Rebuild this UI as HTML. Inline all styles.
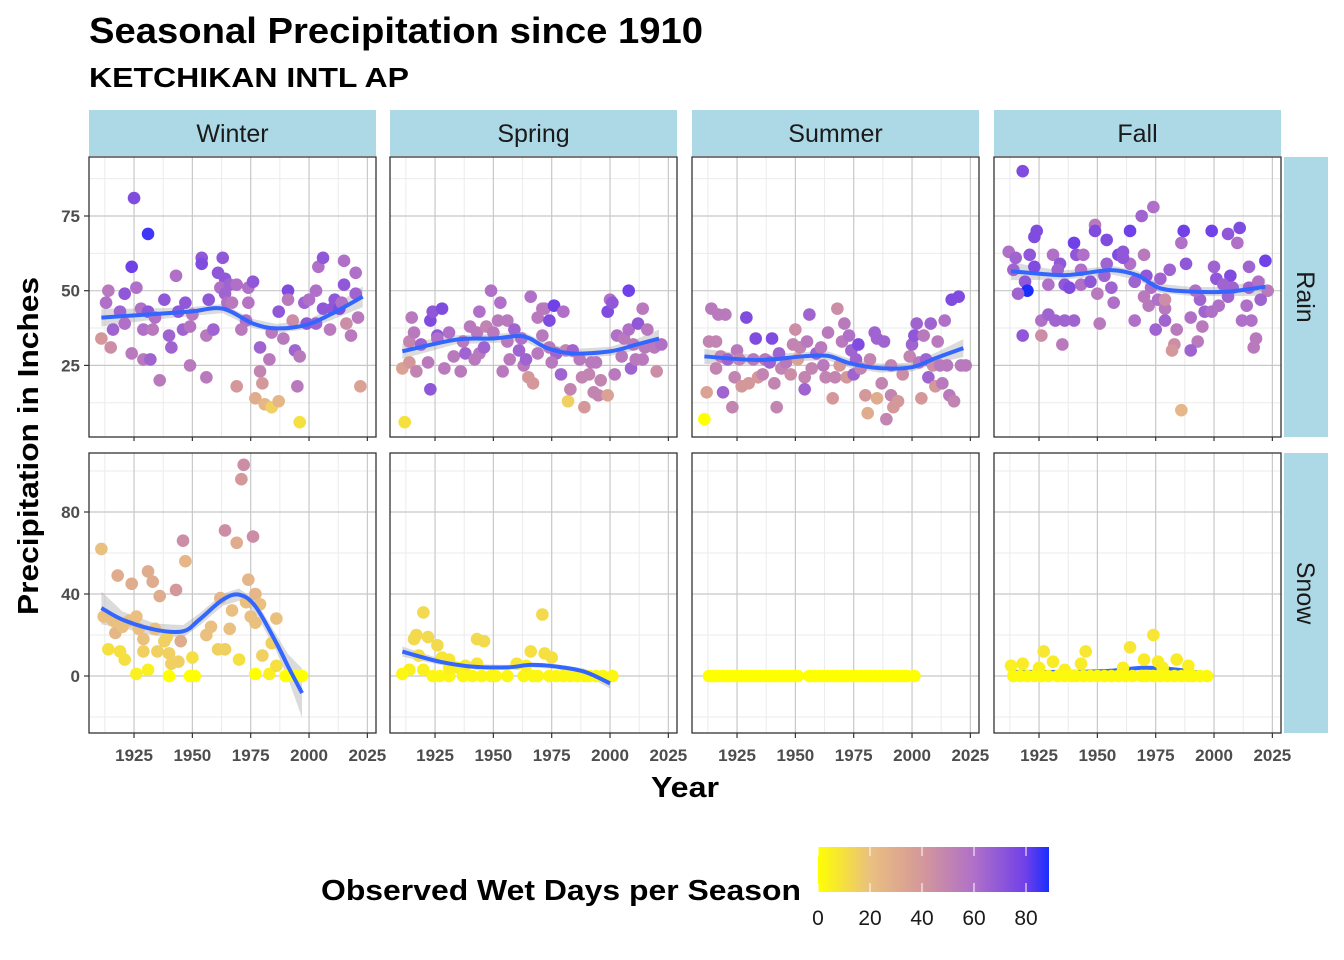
<!DOCTYPE html>
<html><head><meta charset="utf-8">
<style>
body{margin:0;background:#fff;}
svg{display:block;font-family:"Liberation Sans",Arial,sans-serif;}
</style></head>
<body>
<svg id="chart" width="1344" height="960" viewBox="0 0 1344 960" xmlns="http://www.w3.org/2000/svg">
<text x="89" y="43" font-size="36" font-weight="bold" textLength="614" lengthAdjust="spacingAndGlyphs">Seasonal Precipitation since 1910</text>
<text x="89" y="87" font-size="28" font-weight="bold" textLength="320" lengthAdjust="spacingAndGlyphs">KETCHIKAN INTL AP</text>
<text transform="translate(38,446) rotate(-90)" text-anchor="middle" font-size="29" font-weight="bold" textLength="338" lengthAdjust="spacingAndGlyphs">Precipitation in Inches</text>
<text x="685" y="797" text-anchor="middle" font-size="29" font-weight="bold" textLength="68" lengthAdjust="spacingAndGlyphs">Year</text>
<text x="321" y="900" font-size="29" font-weight="bold" textLength="480" lengthAdjust="spacingAndGlyphs">Observed Wet Days per Season</text>
<g id="plots"></g>
<g id="legend"></g>
</svg>
<script>
const seasons = ["Winter","Spring","Summer","Fall"];
const rows = ["Rain","Snow"];
const xTicks = [1925,1950,1975,2000,2025];
const rainTicks = [25,50,75];
const snowTicks = [0,40,80];
const legendTicks = [0,20,40,60,80];

const winterRain = [[1925,81,75],[1931,69,85],[1924,58,80],[1943,55,60],[1914,50,55],[1921,49,70],[1926,51,60],[1913,46,60],[1919,43,65],[1911,34,40],[1915,31,45],[1916,37,65],[1921,39,60],[1924,29,55],[1928,44,60],[1931,43,70],[1929,37,60],[1934,41,60],[1933,37,55],[1929,27,55],[1932,27,65],[1936,20,55],[1938,47,70],[1940,35,65],[1941,31,65],[1944,43,70],[1946,37,65],[1947,46,70],[1950,42,55],[1949,38,58],[1949,25,55],[1954,61,70],[1954,59,75],[1956,21,55],[1956,35,55],[1959,37,65],[1957,47,70],[1961,56,70],[1963,61,70],[1964,54,70],[1962,51,60],[1964,49,65],[1965,46,60],[1966,52,65],[1969,52,60],[1967,46,55],[1969,18,40],[1974,46,58],[1973,40,60],[1971,37,55],[1974,51,60],[1976,53,70],[1977,14,30],[1979,23,50],[1979,31,65],[1980,19,40],[1981,12,25],[1984,11,15],[1987,13,25],[1983,27,55],[1984,36,55],[1987,43,70],[1989,34,55],[1991,50,75],[1991,47,55],[1993,40,45],[1994,30,65],[1996,28,55],[1995,18,55],[1996,6,10],[1998,46,65],[2000,47,60],[1999,39,70],[2003,39,65],[2003,50,60],[2004,58,60],[2006,61,70],[2006,44,70],[2010,44,70],[2009,37,55],[2011,47,70],[2013,44,75],[2014,46,60],[2015,60,60],[2015,52,70],[2016,39,45],[2018,35,55],[2020,49,65],[2020,56,60],[2021,41,55],[2022,18,35]];
const springRain = [[1912,6,10],[1911,24,35],[1914,26,40],[1914,33,50],[1915,41,55],[1916,36,55],[1919,32,65],[1917,23,50],[1922,26,55],[1923,17,70],[1923,40,75],[1924,43,70],[1926,35,70],[1926,34,60],[1928,44,75],[1931,36,60],[1929,24,55],[1933,28,55],[1936,23,55],[1937,33,55],[1938,29,65],[1940,38,55],[1942,27,55],[1943,36,55],[1944,29,55],[1944,43,60],[1946,31,65],[1947,38,50],[1949,50,60],[1950,36,55],[1952,40,55],[1953,46,60],[1954,23,55],[1956,33,55],[1956,40,55],[1957,27,55],[1959,37,65],[1961,30,65],[1962,34,60],[1963,25,55],[1964,27,65],[1965,21,40],[1967,19,40],[1966,48,60],[1969,41,55],[1971,44,55],[1972,44,55],[1974,40,75],[1976,45,80],[1980,43,60],[1971,35,55],[1969,29,55],[1974,31,55],[1977,29,65],[1975,26,55],[1979,22,65],[1981,30,50],[1984,30,65],[1982,13,15],[1983,17,50],[1987,27,55],[1988,21,50],[1989,11,40],[1991,22,50],[1992,26,55],[1994,26,55],[1993,16,50],[1995,15,50],[1996,20,50],[1999,15,35],[1999,43,75],[2000,47,60],[2001,46,70],[2002,22,55],[2003,35,60],[2005,28,55],[2006,34,55],[2008,37,60],[2008,50,80],[2009,24,65],[2010,32,55],[2011,27,55],[2012,39,70],[2014,27,55],[2014,44,55],[2015,31,55],[2016,37,55],[2019,31,55],[2020,23,45],[2022,32,60]];
const summerRain = [[1911,7,0],[1912,16,35],[1914,44,55],[1917,42,55],[1920,42,55],[1913,33,50],[1916,33,50],[1916,24,50],[1918,28,50],[1921,27,65],[1919,16,65],[1923,11,50],[1924,21,50],[1925,30,55],[1926,27,50],[1927,18,40],[1929,41,75],[1930,19,40],[1932,27,55],[1933,34,75],[1934,21,40],[1936,22,50],[1937,27,55],[1939,26,65],[1940,34,75],[1941,19,50],[1942,11,50],[1943,29,65],[1944,24,50],[1946,26,55],[1948,22,45],[1949,32,50],[1950,37,45],[1951,27,35],[1952,31,50],[1954,21,50],[1955,33,55],[1954,17,65],[1956,42,65],[1957,24,50],[1959,29,65],[1961,31,55],[1962,25,55],[1964,36,55],[1963,21,50],[1966,14,40],[1967,21,50],[1968,44,45],[1969,25,40],[1970,33,55],[1971,39,55],[1972,21,40],[1973,35,60],[1974,30,65],[1975,22,65],[1976,27,65],[1977,32,75],[1978,24,50],[1980,15,40],[1981,9,30],[1982,27,50],[1984,36,65],[1985,34,65],[1985,14,30],[1987,19,50],[1988,33,65],[1989,7,50],[1991,15,50],[1991,25,50],[1992,11,40],[1994,13,40],[1996,22,45],[1999,28,50],[2000,32,65],[2001,35,70],[2002,39,65],[2003,26,55],[2004,14,40],[2005,35,55],[2006,27,65],[2007,21,65],[2008,39,65],[2009,25,45],[2010,18,40],[2011,33,55],[2012,25,55],[2013,19,55],[2014,40,60],[2015,25,55],[2016,15,55],[2017,47,75],[2020,48,75],[2018,13,50],[2021,25,55],[2023,25,55]];
const fallRain = [[1918,90,75],[1974,78,60],[1969,75,65],[1949,72,55],[1949,70,75],[1924,70,75],[1923,68,75],[1964,70,80],[1954,67,75],[1940,66,80],[1912,63,60],[1915,61,65],[1921,62,70],[1931,62,60],[1941,62,70],[1944,62,60],[1934,59,70],[1923,58,75],[1914,57,65],[1933,57,65],[1919,53,70],[1920,50,90],[1916,49,65],[1929,52,60],[1936,52,70],[1938,51,75],[1943,57,60],[1943,52,60],[1947,53,70],[1950,49,55],[1954,59,65],[1953,55,65],[1956,51,65],[1957,46,60],[1959,62,75],[1961,63,70],[1964,59,60],[1961,61,70],[1966,53,65],[1970,62,55],[1971,55,70],[1973,51,60],[1970,48,55],[1972,45,55],[1977,54,65],[1976,47,60],[1979,44,55],[1981,57,65],[1988,59,70],[1986,66,60],[1987,70,80],[1999,70,80],[2006,69,70],[2011,71,75],[2010,66,60],[2000,58,65],[2007,55,75],[2001,54,70],[2004,52,65],[2008,51,65],[2015,51,65],[2015,58,65],[2022,60,80],[2019,53,60],[2023,50,55],[2020,47,65],[2014,45,60],[2006,48,65],[1994,47,65],[1992,50,60],[1996,43,65],[1999,43,60],[2002,45,60],[1990,41,60],[1995,38,55],[2012,40,60],[2016,40,60],[2018,34,55],[2017,31,55],[1993,33,55],[1990,30,65],[1983,32,45],[1982,30,40],[1984,37,55],[1979,40,65],[1975,37,65],[1966,40,60],[1951,39,55],[1979,47,45],[1986,10,25],[1918,35,70],[1926,35,45],[1926,40,60],[1929,42,65],[1932,40,65],[1936,40,65],[1940,40,65],[1935,32,55]];
const winterSnow = [[1911,62,20],[1918,49,30],[1924,45,30],[1931,51,30],[1933,46,30],[1936,39,30],[1943,42,40],[1946,66,45],[1947,56,25],[1964,71,45],[1969,65,30],[1972,103,45],[1971,96,40],[1976,68,45],[1974,47,25],[1962,38,25],[1977,40,25],[1979,35,20],[1986,28,20],[1967,32,20],[1973,36,20],[1975,29,20],[1977,26,20],[1984,16,15],[1980,10,15],[1977,1,0],[1983,1,5],[1986,5,10],[1990,0,0],[1994,0,0],[1997,0,0],[1912,29,20],[1916,27,20],[1917,21,25],[1920,24,20],[1923,27,20],[1926,29,20],[1927,23,20],[1929,18,20],[1934,23,20],[1914,13,10],[1919,12,10],[1921,8,10],[1929,12,15],[1935,12,15],[1939,19,15],[1938,17,15],[1940,11,15],[1941,6,15],[1944,7,15],[1945,17,30],[1950,9,10],[1926,1,5],[1931,3,5],[1940,0,0],[1949,0,0],[1951,0,0],[1956,20,20],[1958,24,20],[1961,13,15],[1964,13,15],[1966,23,20],[1970,8,10]];
const springSnow = [[1920,31,12],[1971,30,12],[1917,20,12],[1922,19,12],[1926,15,12],[1918,10,10],[1916,18,12],[1943,18,12],[1946,17,12],[1966,12,10],[1972,11,10],[1975,9,10],[1931,8,8],[1928,9,8],[1943,6,8],[1960,6,8],[1938,5,8],[1914,3,5],[1911,1,3],[1920,3,5],[1924,0,3],[1927,0,3],[1931,0,3],[1935,4,5],[1937,0,3],[1941,0,3],[1945,0,3],[1949,0,3],[1951,0,3],[1956,0,3],[1963,0,3],[1967,0,3],[1969,0,3],[1974,0,3],[1977,0,3],[1980,0,3],[1983,0,3],[1986,0,3],[1989,0,3],[1991,0,3],[1994,0,3],[1997,0,3],[2001,0,3],[1964,5,5],[1931,4,5]];
const summerSnow = [[1913,0,0],[1915,0,0],[1917,0,0],[1919,0,0],[1921,0,0],[1923,0,0],[1925,0,0],[1927,0,0],[1929,0,0],[1931,0,0],[1933,0,0],[1935,0,0],[1937,0,0],[1939,0,0],[1941,0,0],[1943,0,0],[1945,0,0],[1947,0,0],[1949,0,0],[1951,0,0],[1956,0,0],[1958,0,0],[1960,0,0],[1962,0,0],[1964,0,0],[1966,0,0],[1968,0,0],[1970,0,0],[1972,0,0],[1974,0,0],[1976,0,0],[1978,0,0],[1980,0,0],[1982,0,0],[1984,0,0],[1986,0,0],[1988,0,0],[1990,0,0],[1992,0,0],[1994,0,0],[1996,0,0],[1998,0,0],[2001,0,0]];
const fallSnow = [[1974,20,8],[1964,14,8],[1927,12,8],[1945,12,8],[1984,8,6],[1970,8,6],[1976,7,6],[1931,7,6],[1943,6,6],[1918,6,6],[1913,5,5],[1989,5,5],[1925,4,5],[1961,4,5],[1978,4,5],[1936,3,5],[1914,0,2],[1917,0,2],[1920,0,2],[1923,0,2],[1926,0,2],[1929,0,2],[1933,0,2],[1936,0,2],[1939,0,2],[1941,0,2],[1944,0,2],[1947,0,2],[1950,0,2],[1953,0,2],[1956,0,2],[1959,0,2],[1962,0,2],[1965,0,2],[1969,0,2],[1971,0,2],[1974,0,2],[1977,0,2],[1980,0,2],[1983,0,2],[1986,0,2],[1989,0,2],[1991,0,2],[1994,0,2],[1997,0,2]];

// smooth trend [year, fit, halfBand]
const winterRainFit = [[1911,41,3],[1930,42,2],[1949,43,1.5],[1963,44,1.5],[1976,39,1.5],[1986,37.4,1.5],[1999,38.6,1.5],[2009,42,2],[2023,48,3.5]];
const springRainFit = [[1911,29.7,2.5],[1934,33.6,1.5],[1950,34,1.5],[1963,34.7,1.5],[1973,30.8,1.5],[1984,29,1.5],[2000,29.7,1.5],[2011,31.9,1.8],[2021,34,3]];
const summerRainFit = [[1911,28,2.5],[1934,26.8,1.5],[1953,28,1.5],[1964,28.2,1.5],[1973,25.8,1.5],[1986,24.1,1.5],[2000,24.4,1.5],[2010,27.4,1.8],[2022,30.8,3]];
const fallRainFit = [[1913,56.5,3],[1934,55.2,1.5],[1944,55.8,1.5],[1956,56.9,1.5],[1967,55.2,1.5],[1977,50.8,1.5],[1991,49.7,1.5],[2006,49.7,1.5],[2022,51.3,3]];
const winterSnowFit = [[1911,33.2,8],[1920,27.5,4],[1934,22.6,3],[1946,21.8,3],[1953,27.5,3],[1963,37.2,3],[1970,39.7,3],[1977,34,3],[1986,16.1,4],[1991,4.7,6],[1997,-8.3,12]];
const springSnowFit = [[1911,11.9,2.5],[1927,7,1.5],[1941,4.6,1.2],[1956,4.2,1.2],[1966,5.4,1.2],[1977,4.6,1.2],[1989,2.1,1.5],[2000,-3.6,2.5]];
const summerSnowFit = [[1913,0,0],[2001,0,0]];
const fallSnowFit = [[1913,2,1],[1940,2,1],[1955,2.5,1],[1970,4,1],[1985,3,1],[1997,1,1]];

const panelData = [[winterRain,springRain,summerRain,fallRain],[winterSnow,springSnow,summerSnow,fallSnow]];
const fitData = [[winterRainFit,springRainFit,summerRainFit,fallRainFit],[winterSnowFit,springSnowFit,summerSnowFit,fallSnowFit]];

const colorStops = [[0,[255,255,0]],[20,[234,192,128]],[40,[212,152,154]],[60,[176,112,200]],[80,[112,64,232]],[89,[26,46,255]]];
function wetColor(v){
  v=Math.max(0,Math.min(89,v));
  for(let i=0;i<colorStops.length-1;i++){
    const a=colorStops[i],b=colorStops[i+1];
    if(v<=b[0]){const t=(v-a[0])/(b[0]-a[0]);
      return 'rgb('+a[1].map((c,k)=>Math.round(c+(b[1][k]-c)*t)).join(',')+')';}
  }
  return 'rgb(26,46,255)';
}
const NS="http://www.w3.org/2000/svg";
function mk(tag,attrs,parent){const e=document.createElementNS(NS,tag);for(const k in attrs)e.setAttribute(k,attrs[k]);parent.appendChild(e);return e;}

const panelLeft=[89,390,692,994], panelW=287;
const rowTop=[157,453], panelH=280;
function xScale(p,yr){return panelLeft[p]+(yr-1905.7)*2.3333;}
function yScale(r,v){return r===0 ? 216+(75-v)*2.988 : 676-v*2.05;}
const plots=document.getElementById('plots');

seasons.forEach((s,p)=>{
  const strip=mk('rect',{x:panelLeft[p],y:110,width:panelW,height:46,fill:'#ADD8E6'},plots);
  
  
  const st=mk('text',{x:panelLeft[p]+panelW/2,y:142,'text-anchor':'middle','font-size':25,fill:'#1a1a1a'},plots);
  st.textContent=s;
  
  
});
rows.forEach((rname,r)=>{
  const rs=mk('rect',{x:1284,y:rowTop[r],width:44,height:panelH,fill:'#ADD8E6'},plots);
  
  
  const rt=mk('text',{transform:'translate(1297,'+(rowTop[r]+panelH/2)+') rotate(90)','text-anchor':'middle','font-size':25,fill:'#1a1a1a'},plots);
  rt.textContent=rname;
  
  
});

function drawLine(p,r,fit,inner){
  const pts=fit.map(f=>[xScale(p,f[0]),yScale(r,f[1])]);
  let dstr='M'+pts[0][0]+','+pts[0][1];
  for(let i=0;i<pts.length-1;i++){
    const p0=pts[Math.max(0,i-1)],p1=pts[i],p2=pts[i+1],p3=pts[Math.min(pts.length-1,i+2)];
    dstr+=' C'+(p1[0]+(p2[0]-p0[0])/6)+','+(p1[1]+(p2[1]-p0[1])/6)+' '+(p2[0]-(p3[0]-p1[0])/6)+','+(p2[1]-(p3[1]-p1[1])/6)+' '+p2[0]+','+p2[1];
  }
  const ln=mk('path',{d:dstr,fill:'none',stroke:'#3366FF','stroke-width':4},inner);
  
  
}

for(let r=0;r<2;r++){
  const yt = r===0?rainTicks:snowTicks;
  const step = yt[1]-yt[0];
  for(let p=0;p<4;p++){
    const g=mk('g',{},plots);
    
    
    const L=panelLeft[p],T=rowTop[r];
    mk('rect',{x:L,y:T,width:panelW,height:panelH,fill:'#fff'},g);
    const clipId='c'+r+p;
    const cp=mk('clipPath',{id:clipId},g);
    mk('rect',{x:L,y:T,width:panelW,height:panelH},cp);
    const inner=mk('g',{'clip-path':'url(#'+clipId+')'},g);
    for(let v=yt[0]-step*1.5; v<=yt[yt.length-1]+step*1.5; v+=step){
      const y=yScale(r,v); mk('line',{x1:L,x2:L+panelW,y1:y,y2:y,stroke:'#ebebeb','stroke-width':1},inner);
    }
    for(let yr=1912.5; yr<=2030; yr+=25){
      const x=xScale(p,yr); mk('line',{x1:x,x2:x,y1:T,y2:T+panelH,stroke:'#ebebeb','stroke-width':1},inner);
    }
    for(let v=yt[0]-step; v<=yt[yt.length-1]+step; v+=step){
      const y=yScale(r,v); mk('line',{x1:L,x2:L+panelW,y1:y,y2:y,stroke:'#c8c8c8','stroke-width':1.2},inner);
    }
    xTicks.forEach(yr=>{const x=xScale(p,yr);mk('line',{x1:x,x2:x,y1:T,y2:T+panelH,stroke:'#c8c8c8','stroke-width':1.2},inner);});
    const fit=fitData[r][p];
    let up=fit.map(f=>xScale(p,f[0])+','+yScale(r,f[1]+f[2]));
    let dn=fit.slice().reverse().map(f=>xScale(p,f[0])+','+yScale(r,f[1]-f[2]));
    const band=mk('polygon',{points:up.concat(dn).join(' '),fill:'#999','fill-opacity':0.35},inner);
    
    
    const lineUnder = (r===1 && p>=2);
    if(lineUnder) drawLine(p,r,fit,inner);
    panelData[r][p].forEach(d=>{
      const c=mk('circle',{cx:xScale(p,d[0]),cy:yScale(r,d[1]),r:6.3,fill:wetColor(d[2])},inner);
      
      
    });
    if(!lineUnder) drawLine(p,r,fit,inner);
    mk('rect',{x:L,y:T,width:panelW,height:panelH,fill:'none',stroke:'#333','stroke-width':1.3},g);
    if(p===0){
      yt.forEach(v=>{const y=yScale(r,v);
        mk('line',{x1:L-5,x2:L,y1:y,y2:y,stroke:'#333','stroke-width':1.2},g);
        const t=mk('text',{x:L-9,y:y+6,'text-anchor':'end','font-size':17,'font-weight':'bold',fill:'#4d4d4d'},g);
        t.textContent=v;
        
        
      });
    }
    if(r===1){
      xTicks.forEach(yr=>{const x=xScale(p,yr);
        mk('line',{x1:x,x2:x,y1:T+panelH,y2:T+panelH+5,stroke:'#333','stroke-width':1.2},g);
        const t=mk('text',{x:x,y:T+panelH+28,'text-anchor':'middle','font-size':17,'font-weight':'bold',fill:'#4d4d4d'},g);
        t.textContent=yr;
        
        
      });
    } else {
      xTicks.forEach(yr=>{const x=xScale(p,yr);
        mk('line',{x1:x,x2:x,y1:T+panelH,y2:T+panelH+4,stroke:'#333','stroke-width':1.2},g);});
    }
  }
}
const leg=document.getElementById('legend');
const defs=mk('defs',{},leg);
const grad=mk('linearGradient',{id:'lg',x1:0,x2:1,y1:0,y2:0},defs);
colorStops.forEach(s=>mk('stop',{offset:(s[0]/89),'stop-color':'rgb('+s[1].join(',')+')'},grad));
const bar=mk('rect',{x:818,y:847,width:231,height:45,fill:'url(#lg)'},leg);


legendTicks.forEach(v=>{const x=818+v*2.6;
  mk('line',{x1:x,x2:x,y1:847,y2:856,stroke:'#fff','stroke-width':1},leg);
  mk('line',{x1:x,x2:x,y1:883,y2:892,stroke:'#fff','stroke-width':1},leg);
  const t=mk('text',{x:x,y:925,'text-anchor':'middle','font-size':21,fill:'#1a1a1a'},leg);
  t.textContent=v;
  
  
});
</script>
</body></html>
